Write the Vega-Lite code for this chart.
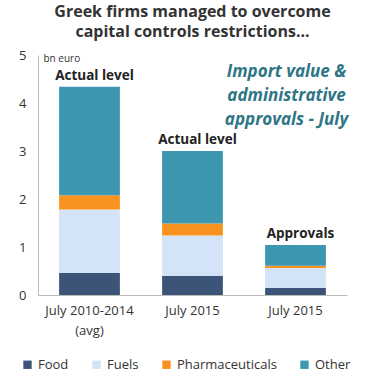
{
  "$schema": "https://vega.github.io/schema/vega-lite/v6.json",
  "width": 309,
  "height": 240,
  "autosize": {"type": "none"},
  "padding": {"left": 38, "top": 55, "right": 28, "bottom": 84},
  "background": "white",
  "title": {
    "text": ["Greek firms managed to overcome", "capital controls restrictions..."],
    "font": "Open Sans",
    "fontSize": 16,
    "fontWeight": "bold",
    "color": "#333333",
    "lineHeight": 20,
    "anchor": "middle",
    "frame": "group",
    "offset": 9
  },
  "config": {
    "view": {"stroke": null},
    "axis": {"labelFont": "Open Sans", "titleFont": "Open Sans", "labelColor": "#333333", "domainColor": "#bbbbbb", "grid": false}
  },
  "data": {
    "values": [
      {"period": "July 2010-2014|(avg)", "category": "Food", "value": 0.46, "note": "Actual level"},
      {"period": "July 2010-2014|(avg)", "category": "Fuels", "value": 1.32, "note": "Actual level"},
      {"period": "July 2010-2014|(avg)", "category": "Pharmaceuticals", "value": 0.30, "note": "Actual level"},
      {"period": "July 2010-2014|(avg)", "category": "Other", "value": 2.26, "note": "Actual level"},
      {"period": "July 2015", "category": "Food", "value": 0.40, "note": "Actual level"},
      {"period": "July 2015", "category": "Fuels", "value": 0.84, "note": "Actual level"},
      {"period": "July 2015", "category": "Pharmaceuticals", "value": 0.25, "note": "Actual level"},
      {"period": "July 2015", "category": "Other", "value": 1.51, "note": "Actual level"},
      {"period": "July 2015 ", "category": "Food", "value": 0.15, "note": "Approvals"},
      {"period": "July 2015 ", "category": "Fuels", "value": 0.41, "note": "Approvals"},
      {"period": "July 2015 ", "category": "Pharmaceuticals", "value": 0.05, "note": "Approvals"},
      {"period": "July 2015 ", "category": "Other", "value": 0.43, "note": "Approvals"}
    ]
  },
  "layer": [
    {
      "transform": [
        {"calculate": "indexof(['Food', 'Fuels', 'Pharmaceuticals', 'Other'], datum.category)", "as": "rank"}
      ],
      "mark": {"type": "bar"},
      "encoding": {
        "x": {
          "field": "period",
          "type": "nominal",
          "sort": null,
          "scale": {"paddingInner": 0.41, "paddingOuter": 0.205},
          "axis": {
            "title": null,
            "labelAngle": 0,
            "labelExpr": "split(trim(datum.label), '|')",
            "labelFontSize": 13,
            "labelLineHeight": 20,
            "labelPadding": 9,
            "ticks": false
          }
        },
        "y": {
          "field": "value",
          "type": "quantitative",
          "stack": "zero",
          "scale": {"domain": [0, 5], "nice": false},
          "axis": {
            "values": [0, 1, 2, 3, 4, 5],
            "title": "bn euro",
            "titleAngle": 0,
            "titleAlign": "left",
            "titleBaseline": "middle",
            "titleX": 5,
            "titleY": 3,
            "titleFontSize": 10,
            "titleFontWeight": "normal",
            "titleColor": "#333333",
            "labelFontSize": 13,
            "labelPadding": 12,
            "ticks": false
          }
        },
        "color": {
          "field": "category",
          "type": "nominal",
          "sort": ["Food", "Fuels", "Pharmaceuticals", "Other"],
          "scale": {
            "domain": ["Food", "Fuels", "Pharmaceuticals", "Other"],
            "range": ["#3c5478", "#d3e4f8", "#f7931e", "#3e97b0"]
          },
          "legend": {
            "orient": "none",
            "legendX": -17,
            "legendY": 303,
            "direction": "horizontal",
            "title": null,
            "symbolType": "square",
            "symbolSize": 70,
            "symbolStrokeWidth": 0,
            "labelFont": "Open Sans",
            "labelFontSize": 13,
            "labelColor": "#333333",
            "columnPadding": 21
          }
        },
        "order": {"field": "rank", "type": "quantitative", "sort": "ascending"}
      }
    },
    {
      "transform": [
        {"aggregate": [{"op": "sum", "field": "value", "as": "total"}], "groupby": ["period", "note"]}
      ],
      "mark": {"type": "text", "font": "Open Sans", "fontWeight": "bold", "fontSize": 13.5, "baseline": "middle", "dy": -11, "dx": 5, "color": "#222222"},
      "encoding": {
        "x": {"field": "period", "type": "nominal", "sort": null},
        "y": {"field": "total", "type": "quantitative"},
        "text": {"field": "note"}
      }
    },
    {
      "data": {"values": [{"lines": ["Import value &", "administrative", "approvals - July"]}]},
      "mark": {"type": "text", "font": "Open Sans", "fontWeight": "bold", "fontStyle": "italic", "fontSize": 17, "lineHeight": 24, "baseline": "middle", "align": "center", "dx": -9, "color": "#2e7585"},
      "encoding": {
        "x": {"datum": "July 2015 ", "type": "nominal"},
        "y": {"datum": 4.65, "type": "quantitative"},
        "text": {"field": "lines"}
      }
    }
  ]
}
